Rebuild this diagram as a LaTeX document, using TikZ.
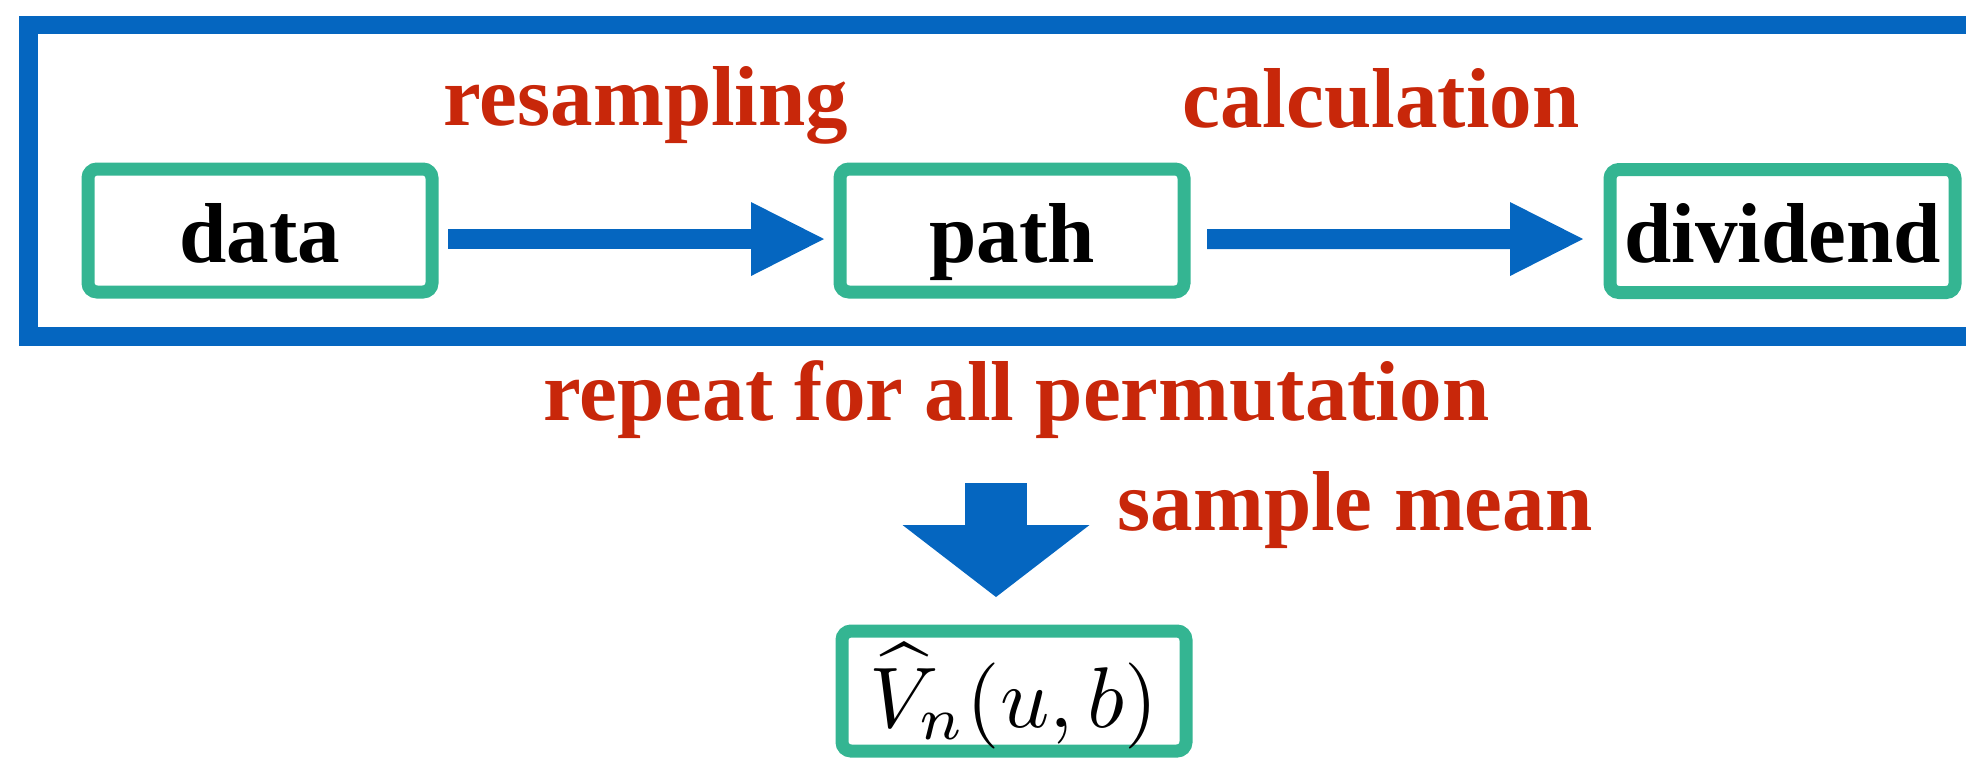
\documentclass[tikz,border=0pt]{standalone}
\usepackage{amsmath,amssymb}
\usepackage[no-math]{fontspec}
\setmainfont{Liberation Serif}
\usetikzlibrary{arrows.meta}
\usepackage{xcolor}
\definecolor{FlowBlue}{HTML}{0566C0}
\definecolor{FlowGreen}{HTML}{34B592}
\definecolor{FlowRed}{HTML}{C8270A}

\begin{document}
\begin{tikzpicture}[
  flowbox/.style={draw=FlowGreen,line width=0.13cm,rounded corners=0.09cm,
    minimum width=3.44cm,minimum height=1.23cm,inner sep=0pt,
    text height=0.66cm,text depth=0.03cm,font=\fontsize{24.2}{29}\selectfont\bfseries},
  steplabel/.style={FlowRed,anchor=base,inner sep=0pt,font=\fontsize{24.2}{29}\selectfont\bfseries},
  flowarrow/.style={FlowBlue,line width=0.2cm,-{Triangle[length=0.73cm,width=0.74cm,line width=0pt]}}]
  \useasboundingbox (0,0) rectangle (19.66,-7.58);
  \draw[FlowBlue,line width=0.185cm] (19.66,-0.25)--(0.285,-0.25)--(0.285,-3.365)--(19.66,-3.365);
  \node[flowbox] (data) at (2.60,-2.305) {data};
  \node[flowbox] (path) at (10.12,-2.305) {path};
  \node[flowbox,minimum width=3.45cm] (dividend) at (17.825,-2.31) {dividend};
  \node[flowbox,minimum height=1.20cm,text height=0.82cm,text depth=0.10cm,font=\normalsize]
    (vhat) at (10.14,-6.91) {\scalebox{2.45}{$\widehat{V}_n(u,b)$}};
  \node[steplabel] (resampling) at (6.46,-1.255) {resampling};
  \node[steplabel] (calculation) at (13.81,-1.27) {calculation};
  \node[steplabel] (repeat) at (10.165,-4.20) {repeat for all permutation};
  \node[steplabel] (samplemean) at (13.55,-5.30) {sample mean};
  \draw[flowarrow,shorten <=0.095cm,shorten >=0.095cm] ([yshift=-0.085cm]data.east)--([yshift=-0.085cm]path.west);
  \draw[flowarrow,shorten <=0.165cm,shorten >=0.205cm] ([yshift=-0.085cm]path.east)--([yshift=-0.08cm]dividend.west);
  \coordinate (meantop) at (9.96,-4.83);
  \draw[FlowBlue,line width=0.62cm,shorten >=0.275cm,-{Triangle[length=0.72cm,width=1.87cm,line width=0pt]}]
    (meantop)--([xshift=-0.18cm]vhat.north);
\end{tikzpicture}
\end{document}
